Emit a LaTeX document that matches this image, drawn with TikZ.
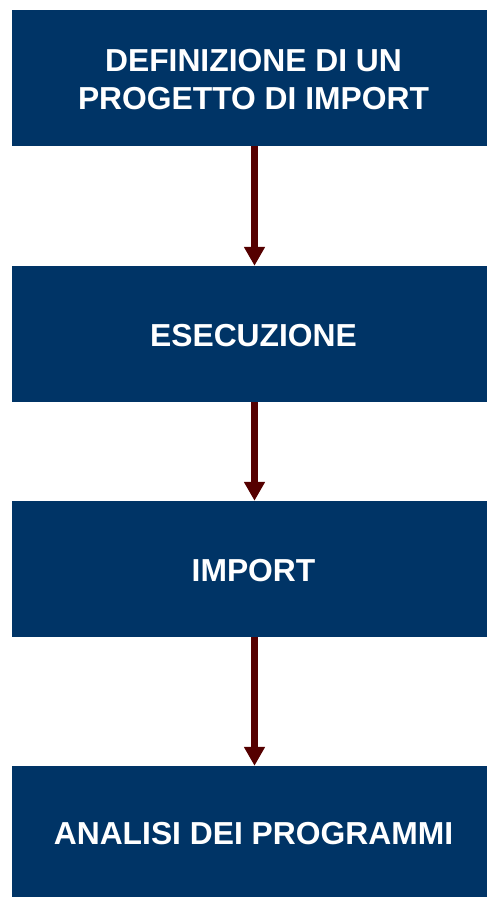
\documentclass[tikz,border=0pt]{standalone}
\usepackage{fontspec}
\setmainfont{Liberation Sans}
\usetikzlibrary{arrows.meta}
\definecolor{boxblue}{HTML}{003466}
\definecolor{arrowred}{HTML}{550000}
\begin{document}
\begin{tikzpicture}[x=1pt,y=-1pt,
  stepbox/.style={fill=boxblue,draw=none,minimum width=475pt,minimum height=136pt,inner sep=0pt},
  steptext/.style={text=white,inner sep=0pt,font=\fontsize{31.8}{38}\selectfont\bfseries,align=center},
  flow/.style={draw=arrowred,line width=7pt,-{Triangle[width=20pt,length=19pt]},arrowred}]
\fill[white] (0,0) rectangle (487,897);
\useasboundingbox (0,0) rectangle (487,897);
\node[stepbox] (b1) at (249.5,78) {};
\node[stepbox] (b2) at (249.5,334) {};
\node[stepbox] (b3) at (249.5,569) {};
\node[stepbox,minimum height=131pt] (b4) at (249.5,831.5) {};
\node[steptext] (t1) at ([xshift=4pt,yshift=-2pt]b1.center) {DEFINIZIONE DI UN\\PROGETTO DI IMPORT};
\node[steptext] (t2) at ([xshift=4pt,yshift=-2pt]b2.center) {ESECUZIONE};
\node[steptext] (t3) at ([xshift=4pt,yshift=-2pt]b3.center) {IMPORT};
\node[steptext] (t4) at ([xshift=4pt,yshift=-2pt]b4.center) {ANALISI DEI PROGRAMMI};
\draw[flow] ([xshift=5pt]b1.south) -- ([xshift=5pt]b2.north);
\draw[flow] ([xshift=5pt]b2.south) -- ([xshift=5pt]b3.north);
\draw[flow] ([xshift=5pt]b3.south) -- ([xshift=5pt]b4.north);
\end{tikzpicture}
\end{document}
